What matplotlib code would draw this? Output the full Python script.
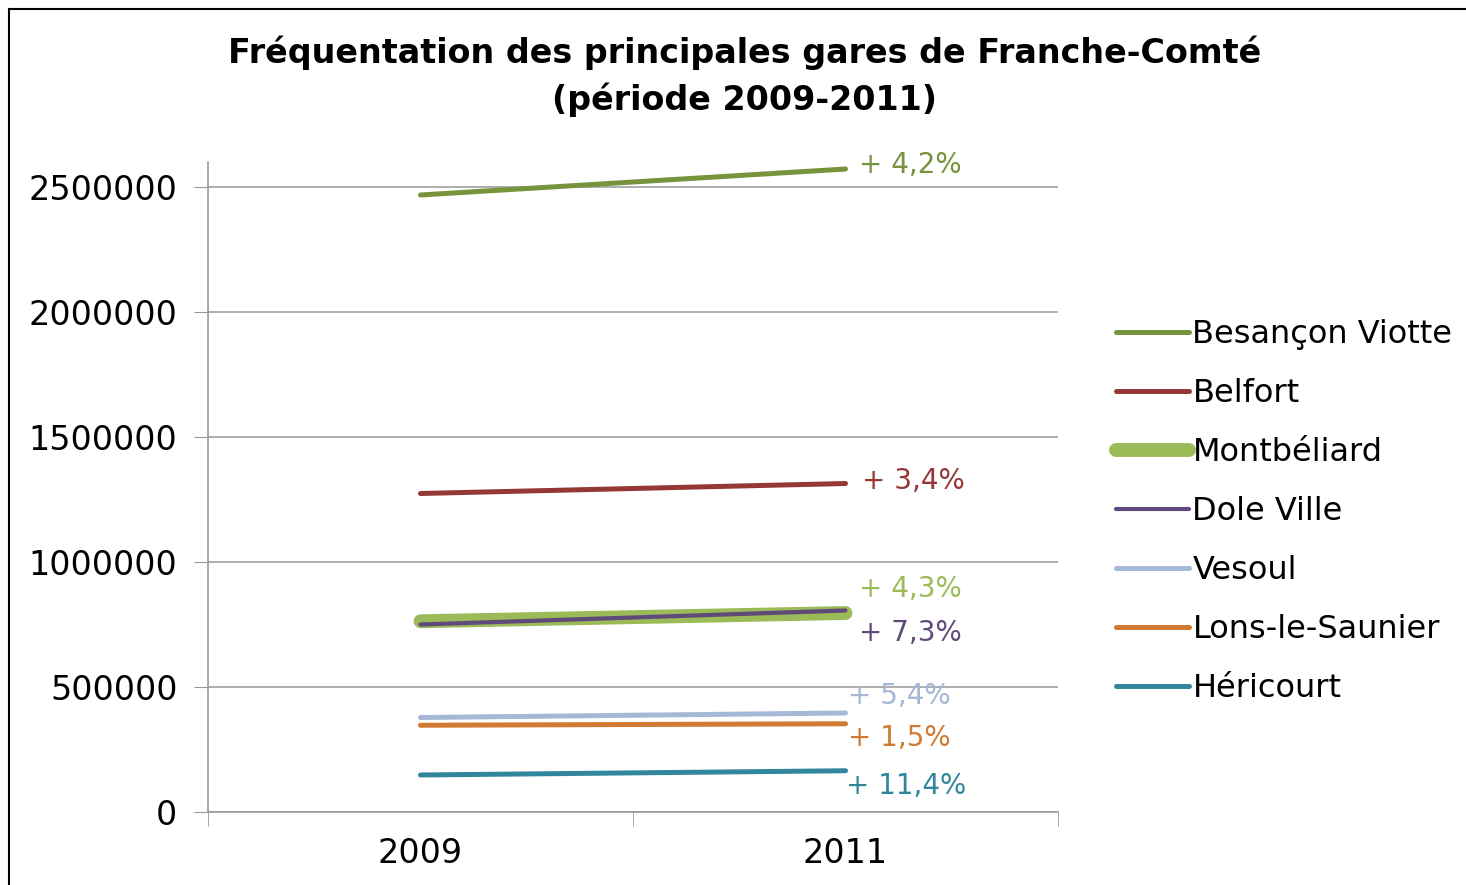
import matplotlib
matplotlib.use("Agg")
from matplotlib import pyplot as plt
from matplotlib.lines import Line2D

plt.rcParams['font.family'] = ['DejaVu Sans']

annees = ["2009", "2011"]
gares = ["Besançon Viotte", "Belfort", "Montbéliard", "Dole Ville",
         "Vesoul", "Lons-le-Saunier", "Héricourt"]
besancon = [2468000, 2572000]
belfort = [1274000, 1314000]
montbeliard = [763000, 796000]
dole = [750000, 806000]
vesoul = [378000, 396000]
lons = [347000, 353000]
hericourt = [148000, 165000]
variations = ["+ 4,2%", "+ 3,4%", "+ 4,3%", "+ 7,3%", "+ 5,4%", "+ 1,5%", "+ 11,4%"]

series = [besancon, belfort, montbeliard, dole, vesoul, lons, hericourt]
couleurs = ["#77933C", "#953735", "#9BBB59", "#604A7B", "#A5B8D5", "#D07A32", "#31869C"]
epaisseurs = [3.6, 3.6, 10, 3, 3.6, 3.6, 3.6]
# decalage des etiquettes (points)
decalages = [(10, 3), (12, 2), (10, 17), (10, -16), (2, 12), (2, -10), (0, -11)]

fig = plt.figure(figsize=(14.66, 8.85), dpi=100)
ax = fig.add_axes([208/1466, 1-812/885, 850/1466, 650/885])

x = [0, 1]
for i in range(len(series)):
    ax.plot(x, series[i], color=couleurs[i], linewidth=epaisseurs[i],
            solid_capstyle="round", label=gares[i], zorder=3 if i != 2 else 2.5)
    ax.annotate(variations[i], xy=(1, series[i][1]), xytext=decalages[i],
                textcoords="offset points", color=couleurs[i], fontsize=20,
                va="center", ha="left")

ax.set_xlim(-0.5, 1.5)
ax.set_ylim(0, 2600000)
ax.set_yticks([0, 500000, 1000000, 1500000, 2000000, 2500000])
ax.set_yticklabels(["0", "500000", "1000000", "1500000", "2000000", "2500000"])
ax.set_xticks(x)
ax.set_xticklabels(annees)
ax.set_xticks([-0.5, 0.5, 1.5], minor=True)
ax.tick_params(axis="x", which="major", length=0, labelsize=24, pad=18)
ax.tick_params(axis="x", which="minor", length=10, color="#999999", direction="out")
ax.tick_params(axis="y", length=10, color="#999999", labelsize=24, pad=12)
ax.grid(axis="y", color="#A0A0A0", linewidth=1.2)
ax.set_axisbelow(True)
for s in ["top", "right"]:
    ax.spines[s].set_visible(False)
ax.spines["left"].set_color("#999999")
ax.spines["bottom"].set_color("#999999")
ax.spines["left"].set_linewidth(1.2)
ax.spines["bottom"].set_linewidth(1.2)

fig.legend(loc="upper left", bbox_to_anchor=(1103/1466, 1-306/885), frameon=False,
           fontsize=23, handlelength=2.3, handletextpad=0.1, labelspacing=0.88,
           borderaxespad=0)

fig.text(745/1466, 1-76/885, "Fréquentation des principales gares de Franche-Comté\n(période 2009-2011)",
         ha="center", va="center", fontsize=24, fontweight="bold", linespacing=1.45)

# bordure
fig.add_artist(Line2D([9/1466, 9/1466], [0, 1-9/885], color="black", linewidth=1.5))
fig.add_artist(Line2D([9/1466, 1], [1-9/885, 1-9/885], color="black", linewidth=1.5))

fig.savefig("out.png", dpi=100)
